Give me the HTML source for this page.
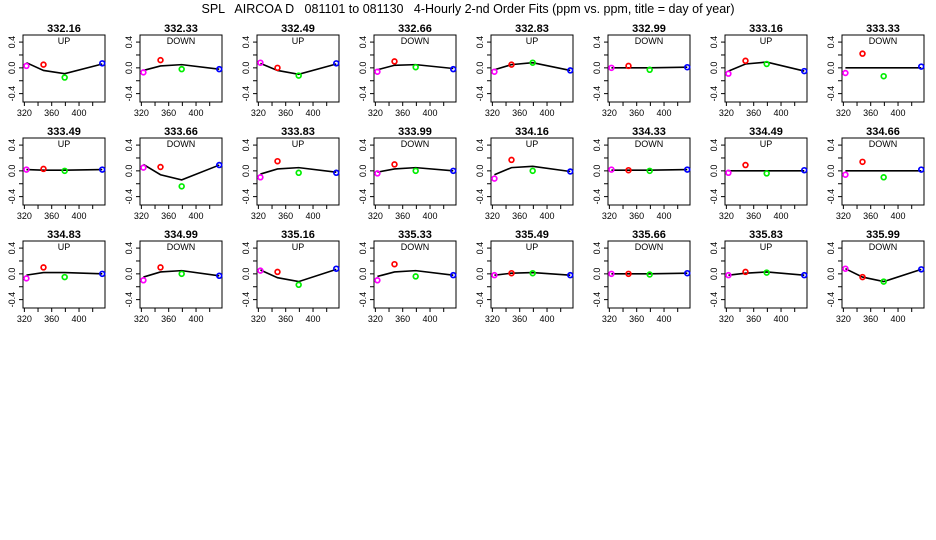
<!DOCTYPE html>
<html><head><meta charset="utf-8"><style>
body{margin:0;background:#fff}svg{display:block;font-family:"Liberation Sans",Arial,sans-serif}
</style></head><body>
<svg id="c" width="936" height="540" viewBox="0 0 936 540">
<rect width="936" height="540" fill="#fff"/>
<text x="468" y="13" text-anchor="middle" font-size="12.5" style="white-space:pre">SPL   AIRCOA D   081101 to 081130   4-Hourly 2-nd Order Fits (ppm vs. ppm, title = day of year)</text>
</svg>
<script>
const titles=["332.16","332.33","332.49","332.66","332.83","332.99","333.16","333.33","333.49","333.66","333.83","333.99","334.16","334.33","334.49","334.66","334.83","334.99","335.16","335.33","335.49","335.66","335.83","335.99"];
const modes=["UP","DOWN","UP","DOWN","UP","DOWN","UP","DOWN","UP","DOWN","UP","DOWN","UP","DOWN","UP","DOWN","UP","DOWN","UP","DOWN","UP","DOWN","UP","DOWN"];
const xVals=[323,348,379,434];
const pointColors=["#ff00ff","#ff0000","#00ee00","#0000ff"];
const obs=[[.03,.05,-.15,.07],[-.07,.12,-.02,-.02],[.08,0,-.12,.07],[-.06,.10,.01,-.02],[-.06,.05,.08,-.04],[0,.03,-.03,.01],[-.09,.11,.06,-.05],[-.08,.22,-.13,.02],
[.02,.03,0,.02],[.05,.06,-.24,.09],[-.10,.15,-.03,-.03],[-.04,.10,0,0],[-.12,.17,0,-.01],[.02,.01,0,.02],[-.03,.09,-.04,.01],[-.06,.14,-.10,.02],
[-.07,.10,-.05,0],[-.10,.10,0,-.03],[.05,.03,-.17,.08],[-.10,.15,-.04,-.02],[-.02,.01,.01,-.02],[0,0,-.01,.01],[-.02,.03,.02,-.02],[.08,-.05,-.12,.07]];
const fits=[[.08,-.04,-.09,.06],[-.04,.03,.05,-.02],[.07,-.04,-.10,.06],[-.03,.04,.05,-.01],[-.03,.05,.08,-.04],[0,0,0,.01],[-.05,.06,.09,-.05],[0,0,0,0],
[.02,.01,.01,.02],[.10,-.06,-.14,.09],[-.05,.03,.05,-.02],[-.02,.03,.05,0],[-.06,.05,.07,-.01],[.01,.01,.01,.02],[0,0,0,0],[0,0,0,0],
[-.02,.02,.02,0],[-.05,.03,.05,-.03],[.06,-.06,-.12,.07],[-.04,.03,.05,-.02],[-.02,.01,.02,-.02],[0,0,0,.01],[-.02,.01,.03,-.02],[.08,-.05,-.12,.07]];
const yTicks=[-0.4,-0.2,0,0.2,0.4];
const yLabels=["-0.4","","0.0","","0.4"];
const xTicks=[320,340,360,380,400,420];
const xLabels=["320","","360","","400",""];
const svg=document.getElementById('c');const NS="http://www.w3.org/2000/svg";
function mk(t,a,p){const e=document.createElementNS(NS,t);for(const k in a)e.setAttribute(k,a[k]);(p||svg).appendChild(e);return e;}
const W=82,H=67,XMIN=318,XMAX=438,YMAX=0.51,YMIN=-0.53;
titles.forEach((t,i)=>{
 const c=i%8,r=Math.floor(i/8),L=23+117*c,T=35+103*r;
 const sx=v=>L+(v-XMIN)/(XMAX-XMIN)*W, sy=v=>T+(YMAX-v)/(YMAX-YMIN)*H;
 const g=mk('g',{});
 
 
 const ti=mk('text',{x:L+W/2,y:T-3,'text-anchor':'middle','font-size':11,'font-weight':'bold'},g);ti.textContent=t;
 
 const m=mk('text',{x:L+W/2,y:T+9,'text-anchor':'middle','font-size':9},g);m.textContent=modes[i];
 
 const b=mk('rect',{x:L,y:T,width:W,height:H,fill:'none',stroke:'#000','stroke-width':1},g);
 
 yTicks.forEach((v,k)=>{const y=sy(v);mk('line',{x1:L-4,x2:L,y1:y,y2:y,stroke:'#000'},g);
  if(yLabels[k]){const tx=mk('text',{x:0,y:0,'text-anchor':'middle','font-size':9,transform:`translate(${L-8},${y}) rotate(-90)`},g);tx.textContent=yLabels[k];
  }});
 xTicks.forEach((v,k)=>{const x=sx(v);mk('line',{x1:x,x2:x,y1:T+H,y2:T+H+4,stroke:'#000'},g);
  if(xLabels[k]){const tx=mk('text',{x:x,y:T+H+14,'text-anchor':'middle','font-size':9},g);tx.textContent=xLabels[k];
  }});
 const pl=mk('polyline',{points:fits[i].map((v,k)=>sx(xVals[k])+','+sy(v)).join(' '),fill:'none',stroke:'#000','stroke-width':1.6},g);
 
 obs[i].forEach((v,k)=>{const p=mk('circle',{cx:sx(xVals[k]),cy:sy(v),r:2.4,fill:'none',stroke:pointColors[k],'stroke-width':1.7},g);
  });
});
</script>
</body></html>
